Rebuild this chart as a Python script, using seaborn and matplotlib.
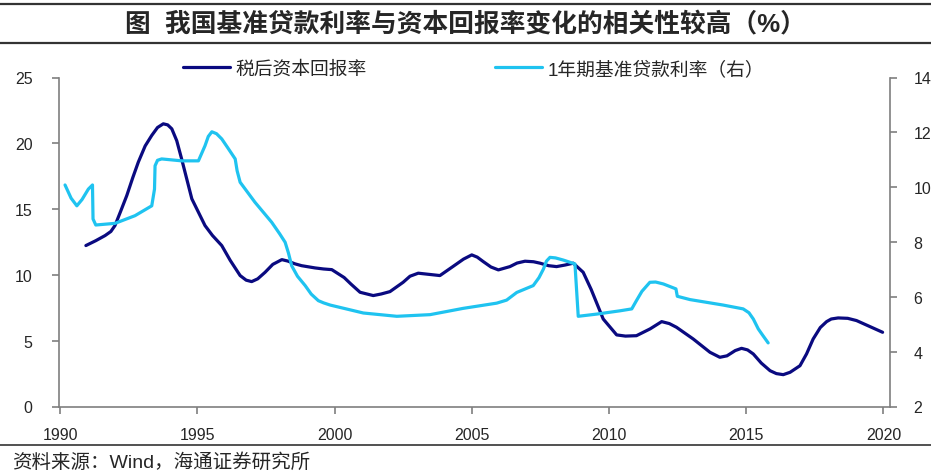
import matplotlib
matplotlib.use('Agg')
from matplotlib import pyplot as plt
from matplotlib.lines import Line2D
import seaborn as sns
import pandas as pd

# 税后资本回报率 (left axis)
roc_year = [1990.94, 1991.3, 1991.64, 1991.85, 1992.0, 1992.2, 1992.43, 1992.65, 1992.85,
            1993.1, 1993.34, 1993.55, 1993.76, 1993.92, 1994.07, 1994.25, 1994.43, 1994.8,
            1995.28, 1995.55, 1995.89, 1996.2, 1996.56, 1996.78, 1996.98, 1997.2, 1997.47,
            1997.75, 1998.08, 1998.3, 1998.56, 1998.8, 1999.29, 1999.6, 1999.9, 2000.35,
            2000.6, 2000.93, 2001.41, 2001.7, 2002.02, 2002.5, 2002.75, 2003.05, 2003.4,
            2003.84, 2004.33, 2004.7, 2005.0, 2005.2, 2005.42, 2005.7, 2005.97, 2006.39,
            2006.65, 2006.94, 2007.25, 2007.49, 2007.8, 2008.09, 2008.4, 2008.7, 2009.06,
            2009.35, 2009.79, 2010.28, 2010.6, 2011.0, 2011.5, 2011.92, 2012.2, 2012.46,
            2013.07, 2013.68, 2014.04, 2014.3, 2014.6, 2014.83, 2015.05, 2015.26, 2015.55,
            2015.87, 2016.1, 2016.35, 2016.6, 2016.96, 2017.2, 2017.44, 2017.7, 2017.93,
            2018.1, 2018.35, 2018.7, 2019.02, 2019.97]
roc_value = [12.23, 12.6, 12.99, 13.3, 13.75, 14.8, 16.03, 17.4, 18.57,
             19.8, 20.6, 21.2, 21.48, 21.4, 21.1, 20.2, 18.8, 15.78,
             13.75, 13.0, 12.23, 11.1, 9.95, 9.6, 9.49, 9.7, 10.2,
             10.8, 11.16, 11.05, 10.84, 10.7, 10.53, 10.45, 10.4, 9.8,
             9.3, 8.68, 8.43, 8.55, 8.73, 9.44, 9.9, 10.13, 10.05,
             9.95, 10.66, 11.2, 11.52, 11.35, 11.01, 10.6, 10.38, 10.63,
             10.9, 11.04, 11.0, 10.89, 10.7, 10.63, 10.75, 10.89, 10.2,
             8.9, 6.65, 5.44, 5.35, 5.38, 5.9, 6.45, 6.3, 6.02,
             5.13, 4.12, 3.74, 3.85, 4.25, 4.42, 4.3, 3.99, 3.3,
             2.72, 2.5, 2.42, 2.6, 3.1, 4.0, 5.13, 6.0, 6.45,
             6.65, 6.73, 6.7, 6.53, 5.64]

# 1年期基准贷款利率 (right axis)
rate_year = [1990.18, 1990.4, 1990.61, 1990.8, 1991.03, 1991.18, 1991.2, 1991.3, 1992.0,
             1992.73, 1993.34, 1993.44, 1993.46, 1993.55, 1993.7, 1994.43, 1995.04, 1995.28,
             1995.4, 1995.53, 1995.7, 1995.89, 1996.1, 1996.38, 1996.45, 1996.56, 1997.1,
             1997.71, 1998.0, 1998.2, 1998.32, 1998.44, 1998.65, 1998.93, 1999.15, 1999.41,
             1999.6, 1999.84, 2001.05, 2002.27, 2003.48, 2004.69, 2005.91, 2006.27, 2006.64,
             2007.24, 2007.45, 2007.61, 2007.72, 2007.85, 2008.05, 2008.34, 2008.76, 2008.88,
             2009.55, 2010.4, 2010.83, 2011.0, 2011.2, 2011.49, 2011.7, 2011.98, 2012.44,
             2012.49, 2012.95, 2014.16, 2014.89, 2015.1, 2015.26, 2015.44, 2015.6, 2015.8]
rate_value = [10.08, 9.6, 9.32, 9.55, 9.93, 10.08, 8.84, 8.62, 8.68,
              8.96, 9.32, 9.93, 10.78, 10.98, 11.03, 10.96, 10.96, 11.51,
              11.85, 12.02, 11.95, 11.76, 11.45, 11.03, 10.6, 10.18, 9.45,
              8.72, 8.3, 7.99, 7.6, 7.13, 6.75, 6.41, 6.1, 5.86,
              5.78, 5.7, 5.41, 5.29, 5.35, 5.58, 5.77, 5.88, 6.16,
              6.41, 6.7, 7.01, 7.3, 7.44, 7.42, 7.34, 7.2, 5.29,
              5.37, 5.49, 5.56, 5.86, 6.2, 6.53, 6.54, 6.47, 6.29,
              6.02, 5.9, 5.7, 5.56, 5.42, 5.19, 4.83, 4.6, 4.32]

x_ticks = [1990, 1995, 2000, 2005, 2010, 2015, 2020]
left_ticks = [0, 5, 10, 15, 20, 25]
right_ticks = [2, 4, 6, 8, 10, 12, 14]

roc_df = pd.DataFrame({'year': roc_year, 'value': roc_value})
rate_df = pd.DataFrame({'year': rate_year, 'value': rate_value})

sns.set_style('white')
plt.rcParams['font.family'] = ['Liberation Sans', 'Noto Sans CJK SC', 'DejaVu Sans']

navy = '#0A0A80'
cyan = '#1FC3F0'
grey = '#7F7F7F'

W, H = 931, 477
fig = plt.figure(figsize=(W / 100, H / 100), dpi=100)
ax = fig.add_axes([59 / W, 1 - 407.5 / H, (890 - 59) / W, (407.5 - 78.5) / H])
ax2 = ax.twinx()

sns.lineplot(data=roc_df, x='year', y='value', ax=ax, color=navy, lw=2.3,
             sort=False, estimator=None, label='税后资本回报率', legend=False,
             solid_joinstyle='round', solid_capstyle='round')
sns.lineplot(data=rate_df, x='year', y='value', ax=ax2, color=cyan, lw=2.3,
             sort=False, estimator=None, label='1年期基准贷款利率（右）', legend=False,
             solid_joinstyle='round', solid_capstyle='round')

ax.set_xlim(1989.96, 2020.24)
ax.set_ylim(0, 25)
ax2.set_ylim(2, 14)
ax.set_xticks(x_ticks)
ax.set_yticks(left_ticks)
ax2.set_yticks(right_ticks)
ax.set_xlabel('')
ax.set_ylabel('')
ax2.set_ylabel('')

for a in (ax, ax2):
    a.spines['top'].set_visible(False)
    for s in a.spines.values():
        s.set_color(grey)
        s.set_linewidth(1.2)
ax.spines['right'].set_visible(False)
ax2.spines['left'].set_visible(False)
ax2.spines['bottom'].set_visible(False)

ax.tick_params(axis='y', direction='out', length=5, width=1.2, color=grey,
               labelsize=11.5, pad=14, left=True)
ax.tick_params(axis='x', direction='out', length=5, width=1.2, color=grey,
               labelsize=11.5, pad=10, bottom=True)
ax2.tick_params(axis='y', direction='out', length=5, width=1.2, color=grey,
                labelsize=11.5, pad=12, right=True)

# legend across the top
h1, l1 = ax.get_legend_handles_labels()
h2, l2 = ax2.get_legend_handles_labels()
fig.legend(h1 + h2, l1 + l2, loc='center left', bbox_to_anchor=(183 / W, 1 - 70 / H),
           ncol=2, frameon=False, fontsize=13.5, handlelength=2.5, handletextpad=0.32,
           columnspacing=6.8, borderpad=0, borderaxespad=0)

# title band and rules
fig.add_artist(Line2D([0, 1], [1 - 5 / H, 1 - 5 / H], color='#333333', lw=1.6))
fig.add_artist(Line2D([0, 1], [1 - 44 / H, 1 - 44 / H], color='#333333', lw=1.6))
fig.add_artist(Line2D([0, 1], [1 - 446 / H, 1 - 446 / H], color='#333333', lw=1.2))
fig.text(0.5, 1 - 25 / H, '图  我国基准贷款利率与资本回报率变化的相关性较高（%）',
         ha='center', va='center', fontsize=18.5, fontweight='bold')
fig.text(12 / W, 1 - 463 / H, '资料来源：Wind，海通证券研究所', ha='left', va='center',
         fontsize=14)

fig.savefig('out.png', dpi=100)
